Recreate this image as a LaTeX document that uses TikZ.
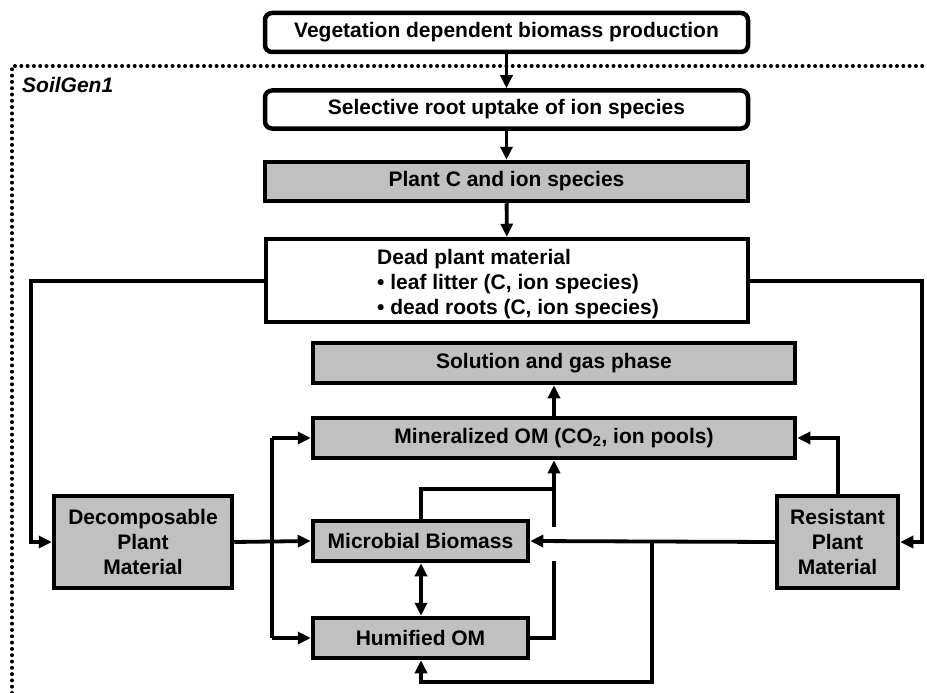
\documentclass[tikz,border=0pt]{standalone}
\usepackage{fontspec}
\setmainfont{Liberation Sans}
\usetikzlibrary{arrows.meta}
\definecolor{boxgray}{HTML}{C0C0C0}
\tikzset{
  box/.style={draw=black, line width=4.5pt, inner sep=0pt, font=\fontsize{21}{25}\selectfont\bfseries, align=center},
  rbox/.style={box, rounded corners=7pt, fill=white},
  gbox/.style={box, fill=boxgray},
  wbox/.style={box, fill=white},
  conn/.style={line width=3.8pt, -{Triangle[length=13pt,width=12pt]}},
  plain/.style={line width=3.8pt},
  dconn/.style={line width=3.8pt, {Triangle[length=13pt,width=12pt]}-{Triangle[length=13pt,width=12pt]}},
  dots/.style={line width=4pt, line cap=round, dash pattern=on 0pt off 6.3pt}
}
\begin{document}
\begin{tikzpicture}[x=1pt,y=-1pt]
\useasboundingbox (0,0) rectangle (927,693);
% dotted frame
\coordinate (fa) at (12,693);
\coordinate (fb) at (12,66);
\coordinate (fc) at (927,66);
\draw[dots] (fa) -- (fb) -- (fc);
\node[anchor=west, font=\fontsize{21}{25}\selectfont\bfseries\itshape, inner sep=0pt] (sg) at (22,85) {SoilGen1};
% boxes
\node[rbox, minimum width=483pt, minimum height=39pt] (veg) at (506.5,32.5) {Vegetation dependent biomass production};
\node[rbox, minimum width=483pt, minimum height=38pt] (sel) at (506.5,109.5) {Selective root uptake of ion species};
\node[gbox, minimum width=483pt, minimum height=39pt] (plc) at (506.5,181.5) {Plant C and ion species};
\node[wbox, minimum width=482pt, minimum height=83pt] (dead) at (507,280.5) {};
\node[anchor=west, font=\fontsize{21}{25}\selectfont\bfseries, align=left, inner sep=0pt] (deadtxt) at (377,284) {Dead plant material\\ \textbullet\ leaf litter (C, ion species)\\ \textbullet\ dead roots (C, ion species)};
\node[gbox, minimum width=482pt, minimum height=40pt] (sol) at (554,363) {Solution and gas phase};
\node[gbox, minimum width=482pt, minimum height=40pt] (min) at (554,438) {Mineralized OM (CO\textsubscript{2}, ion pools)};
\node[gbox, minimum width=215pt, minimum height=40pt] (mic) at (420.5,541) {Microbial Biomass};
\node[gbox, minimum width=215pt, minimum height=40pt] (hum) at (420.5,638) {Humified OM};
\node[gbox, minimum width=178pt, minimum height=92pt] (dec) at (143,542) {Decomposable\\Plant\\Material};
\node[gbox, minimum width=121pt, minimum height=92pt] (res) at (837.5,542) {Resistant\\Plant\\Material};
% coordinates
\coordinate (dl) at (31,281);
\coordinate (dld) at (31,542);
\coordinate (dr) at (922,281);
\coordinate (drd) at (922,542);
\coordinate (bx) at (272,542);
\coordinate (bxt) at (272,438);
\coordinate (bxb) at (272,638);
\coordinate (mt) at (421,489);
\coordinate (vj) at (554,489);
\coordinate (vg1) at (554,527);
\coordinate (vg2) at (554,561);
\coordinate (hr) at (554,638);
\coordinate (rx) at (652,542);
\coordinate (rxb) at (652,682);
\coordinate (hb) at (421,682);
\coordinate (rt) at (838,438);
% connectors
\draw[conn] (veg) -- (sel);
\draw[conn] (sel) -- (plc);
\draw[conn] (plc) -- (dead);
\draw[conn] (dead.west |- dl) -- (dl) -- (dld) -- (dec.west);
\draw[conn] (dead.east |- dr) -- (dr) -- (drd) -- (res.east);
\draw[conn] (dec.east) -- (mic.west);
\draw[conn] (bxt) -- (min.west |- bxt);
\draw[plain] (bxt) -- (bxb);
\draw[conn] (bxb) -- (hum.west |- bxb);
\draw[dconn] (mic.south -| mt) -- (hum.north -| mt);
\draw[plain] (mic.north -| mt) -- (mt) -- (vj);
\draw[conn] (vg1) -- (min.south -| vg1);
\draw[plain] (hum.east |- hr) -- (hr) -- (vg2);
\draw[conn] (min.north -| vj) -- (sol.south -| vj);
\draw[conn] (res.west) -- (mic.east);
\draw[conn] (rx) -- (rxb) -- (hb) -- (hum.south -| hb);
\draw[conn] (res.north -| rt) -- (rt) -- (min.east |- rt);
\end{tikzpicture}
\end{document}
